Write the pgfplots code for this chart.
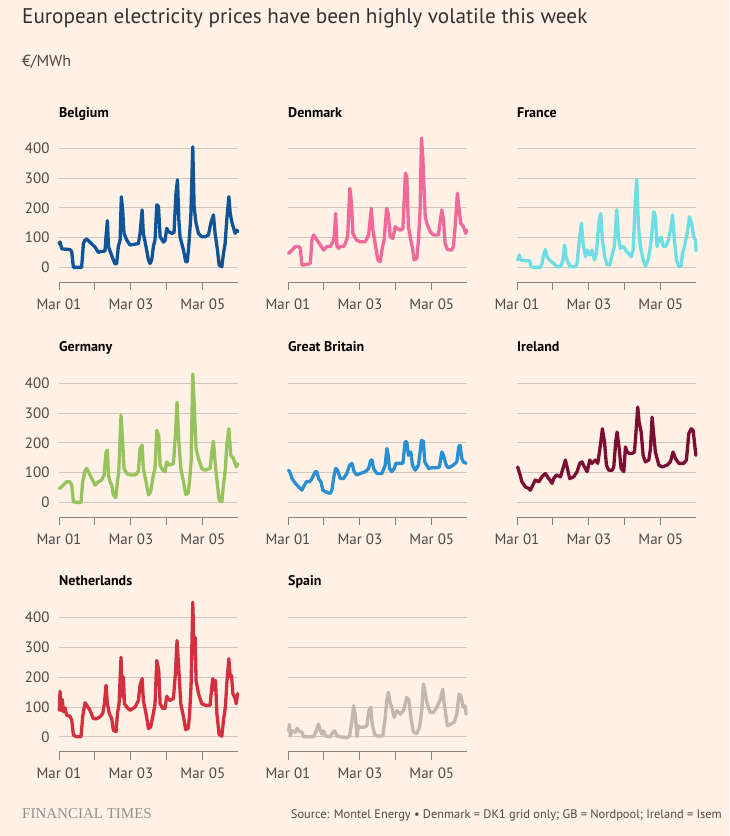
\documentclass[border=0pt]{standalone}
\usepackage{fontspec}
\setmainfont{PT Sans}
\newfontfamily\ftserif{Liberation Serif}
\usepackage{pgfplots}
\pgfplotsset{compat=1.18}
\definecolor{bg}{HTML}{FFF1E5}
\definecolor{gridc}{HTML}{CEC5BC}
\definecolor{axisc}{HTML}{8A827C}
\definecolor{labelc}{HTML}{4D4845}
\definecolor{titlec}{HTML}{33302E}
\definecolor{cBE}{HTML}{0F5499}
\definecolor{cDK}{HTML}{F0699A}
\definecolor{cFR}{HTML}{6DDDE6}
\definecolor{cDE}{HTML}{96C35B}
\definecolor{cGB}{HTML}{2A8FD2}
\definecolor{cIE}{HTML}{7A0E33}
\definecolor{cNL}{HTML}{D2303F}
\definecolor{cES}{HTML}{C2B7AE}
\pgfplotsset{panel/.style={
  scale only axis, width=179pt, height=152pt,
  xmin=0, xmax=119.5, ymin=-50, ymax=460,
  axis x line*=bottom, axis y line*=left,
  y axis line style={draw=none},
  x axis line style={draw=axisc, line width=1pt},
  xtick={0,24,48,72,96},
  xticklabels={Mar 01,,Mar 03,,Mar 05},
  xtick align=outside, major tick length=8pt,
  xtick style={draw=axisc, line width=1pt},
  ytick={0,100,200,300,400},
  ytick style={draw=none},
  ymajorgrids, major grid style={draw=gridc, line width=0.8pt},
  tick label style={font=\fontsize{15}{17}\selectfont, text=labelc},
  xticklabel style={yshift=-5pt},
  yticklabel style={xshift=-6pt},
  /pgf/number format/assume math mode=true,
  clip=false,
  every axis plot/.append style={line width=3.3pt, line join=round, line cap=round, mark=none},
  anchor=south west,
}}
\begin{document}
\begin{tikzpicture}[x=1pt,y=1pt]
\fill[bg] (0,0) rectangle (729,836);
\useasboundingbox (0,0) rectangle (729,836);
\node[anchor=base west, text=titlec, inner sep=0pt, font=\fontsize{21.2}{25}\selectfont] at (22,812) {European electricity prices have been highly volatile this week};
\node[anchor=base west, text=labelc, inner sep=0pt, font=\fontsize{16}{19}\selectfont] at (22,769) {€/MWh};
% panel titles
\foreach \t/\x/\y in {Belgium/59/718, Denmark/288/718, France/517/718, Germany/59/484, Great Britain/288/484, Ireland/517/484, Netherlands/59/250, Spain/288/250}{
  \node[anchor=base west, inner sep=0pt, text=black, font=\fontsize{14}{16}\selectfont\bfseries] at (\x,\y) {\t};
}
% Belgium
\begin{axis}[panel, at={(59pt,553.7pt)}]
\addplot[cBE] coordinates {(0,80)(0.7,85)(1.8,62)(7.3,60)(8.5,53)(9.6,0)(15.1,0)(16.3,80)(17.4,92)(18.5,95)(24.1,68)(26.3,50)(27.4,53)(30.7,55)(31.4,103)(32.3,157)(33.0,70)(34.1,55)(35.9,30)(37.4,12)(38.5,12)(39.6,70)(40.8,92)(41.6,237)(42.5,193)(43.4,114)(45.2,92)(47.4,75)(50.8,78)(53.0,80)(54.1,114)(55.5,193)(56.3,114)(58.1,70)(59.7,25)(60.8,13)(61.9,25)(63.0,70)(64.1,92)(65.3,210)(66.4,204)(67.5,103)(69.7,85)(70.8,90)(71.9,131)(73.1,120)(75.3,114)(76.8,117)(78.0,243)(79.1,294)(80.0,159)(80.8,103)(83.1,58)(84.6,19)(85.7,19)(86.6,70)(88.0,170)(89.3,405)(90.2,204)(91.5,148)(93.1,114)(95.3,103)(97.6,103)(99.8,109)(101.3,148)(103.1,176)(104.2,114)(105.8,58)(106.9,8)(108.7,2)(109.8,47)(110.9,80)(112.0,159)(113.4,237)(114.3,181)(115.6,148)(117.6,114)(118.7,125)(119.4,120)};
\end{axis}
% Denmark
\begin{axis}[panel, at={(288pt,553.7pt)}, yticklabels={}]
\addplot[cDK] coordinates {(0.4,47)(2.7,58)(4.9,70)(7.1,70)(8.2,64)(9.3,8)(10.4,8)(14.9,13)(16.0,92)(17.1,109)(19.3,92)(21.6,75)(23.8,58)(26.0,70)(28.2,70)(30.0,86)(30.9,103)(31.8,181)(32.7,70)(33.8,64)(34.9,70)(37.1,70)(38.2,80)(39.8,103)(41.3,265)(42.4,215)(43.3,114)(45.6,92)(48.2,86)(51.6,86)(53.8,109)(55.6,198)(56.7,125)(58.2,80)(60.0,25)(61.6,19)(63.1,70)(64.2,92)(65.8,198)(66.9,181)(68.2,103)(70.0,97)(71.6,137)(72.7,131)(74.9,125)(76.7,131)(78.4,316)(79.3,305)(80.4,137)(82.0,92)(83.1,64)(84.2,25)(86.0,30)(87.1,92)(88.2,193)(89.1,434)(90.0,372)(91.6,170)(92.7,148)(94.9,120)(97.1,109)(100.4,109)(102.7,193)(103.8,159)(104.9,80)(106.4,60)(109.3,58)(110.4,70)(111.6,137)(113.1,249)(114.0,204)(115.3,148)(117.1,137)(118.7,114)(119.3,125)};
\end{axis}
% France
\begin{axis}[panel, at={(517pt,553.7pt)}, yticklabels={}]
\addplot[cFR] coordinates {(0.4,25)(1.6,42)(2.2,25)(6.7,22)(8.5,22)(9.4,2)(11.1,0)(15.6,0)(16.7,13)(17.8,42)(18.9,60)(20.0,36)(22.3,22)(24.5,13)(26.7,2)(29.0,2)(30.7,25)(31.8,75)(32.7,36)(33.9,19)(35.6,2)(39.0,2)(40.1,13)(41.6,92)(43.0,148)(44.1,80)(45.7,36)(46.8,58)(48.6,42)(50.1,58)(51.7,25)(53.0,47)(54.6,148)(55.9,181)(57.0,92)(58.6,36)(60.1,8)(61.9,8)(63.5,42)(65.0,70)(66.6,193)(67.7,103)(69.0,64)(71.3,70)(73.1,53)(74.6,47)(76.2,36)(77.5,58)(78.8,204)(79.9,294)(81.1,137)(82.4,70)(84.2,25)(85.7,4)(87.5,25)(89.1,70)(90.2,125)(91.3,187)(92.4,170)(93.5,70)(94.7,92)(96.2,101)(97.6,70)(99.3,70)(101.1,92)(102.9,137)(103.8,176)(105.1,92)(106.5,25)(108.0,2)(109.6,6)(110.5,47)(111.8,70)(113.6,114)(115.1,170)(116.5,148)(118.0,103)(119.1,92)(119.5,56)};
\end{axis}
% Germany
\begin{axis}[panel, at={(59pt,318.7pt)}]
\addplot[cDE] coordinates {(0.2,47)(1.8,52)(4.0,64)(5.1,69)(7.3,69)(8.5,58)(9.6,2)(11.8,0)(14.7,0)(15.8,69)(17.4,108)(18.5,114)(20.7,92)(23.0,69)(24.1,58)(26.3,69)(28.5,75)(30.1,92)(31.4,169)(32.3,175)(33.0,92)(34.1,69)(35.2,58)(36.3,25)(37.9,16)(39.0,69)(39.9,103)(41.4,292)(42.5,203)(43.4,114)(45.2,97)(47.4,92)(50.8,92)(53.0,103)(54.1,181)(55.5,192)(56.3,114)(58.1,69)(59.7,25)(61.2,36)(63.0,92)(64.1,114)(65.3,242)(66.6,225)(67.5,125)(69.3,108)(70.8,103)(71.9,136)(73.7,125)(76.4,130)(77.7,225)(78.8,336)(80.0,203)(81.3,114)(83.1,69)(84.6,27)(86.2,30)(87.1,69)(88.2,136)(89.3,431)(90.2,336)(91.5,181)(93.1,147)(95.3,114)(97.6,108)(100.9,114)(102.0,169)(103.1,205)(104.2,136)(105.3,80)(106.9,8)(108.7,2)(109.8,58)(111.1,114)(112.0,192)(113.4,247)(114.7,158)(116.5,147)(118.3,119)(119.4,130)};
\end{axis}
% Great Britain
\begin{axis}[panel, at={(288pt,318.7pt)}, yticklabels={}]
\addplot[cGB] coordinates {(0.4,108)(1.6,97)(2.7,80)(4.9,64)(7.1,52)(9.3,41)(10.4,52)(12.2,69)(14.4,69)(16.0,80)(18.2,103)(19.3,103)(20.4,80)(22.0,69)(23.3,41)(24.9,36)(28.2,30)(29.3,41)(30.4,80)(31.8,114)(33.1,108)(34.9,80)(37.1,80)(39.3,97)(41.1,125)(42.7,131)(44.2,103)(46.0,92)(48.2,97)(51.6,103)(53.8,114)(55.3,142)(56.2,142)(57.1,114)(59.3,97)(62.7,97)(64.9,125)(66.0,181)(66.9,158)(67.8,114)(69.3,103)(70.9,114)(72.0,131)(73.8,131)(76.7,131)(78.2,203)(79.3,203)(80.4,158)(82.0,169)(83.1,125)(84.9,108)(87.1,125)(88.2,169)(89.1,208)(90.4,205)(91.3,136)(93.8,114)(96.0,116)(99.3,116)(101.1,119)(102.7,169)(103.8,158)(105.6,125)(107.1,116)(110.4,125)(112.7,136)(114.0,186)(114.9,192)(116.0,147)(117.1,136)(118.9,131)};
\end{axis}
% Ireland
\begin{axis}[panel, at={(517pt,318.7pt)}, yticklabels={}]
\addplot[cIE] coordinates {(0.4,119)(1.8,97)(3.3,69)(5.6,52)(7.8,47)(8.9,41)(10.0,52)(12.2,75)(14.5,69)(16.7,86)(18.9,97)(21.2,80)(23.4,64)(24.5,80)(26.3,92)(29.0,86)(30.7,114)(32.3,142)(33.4,119)(35.2,80)(37.9,86)(40.1,103)(41.9,131)(43.4,136)(45.0,119)(46.8,103)(48.6,142)(50.1,131)(52.3,142)(53.9,131)(55.7,192)(57.0,247)(58.4,203)(59.7,125)(61.2,108)(63.5,108)(64.6,119)(65.9,203)(66.8,236)(68.2,181)(69.5,114)(71.3,103)(72.4,186)(73.5,169)(75.1,164)(76.8,164)(78.4,169)(79.3,225)(80.6,320)(81.5,270)(82.9,236)(84.2,158)(85.7,136)(88.0,142)(89.1,181)(90.2,286)(91.3,225)(92.4,169)(94.7,125)(96.9,119)(100.2,125)(102.4,136)(104.2,169)(105.8,147)(108.0,131)(111.4,131)(113.1,142)(114.7,231)(116.3,247)(117.6,242)(119.4,158)};
\end{axis}
% Netherlands
\begin{axis}[panel, at={(59pt,84.3pt)}]
\addplot[cNL] coordinates {(0.2,89)(0.7,153)(1.3,89)(2.2,125)(2.9,84)(4.0,97)(5.1,72)(7.3,69)(8.5,56)(9.6,6)(11.8,0)(14.7,0)(15.8,67)(17.4,114)(18.5,106)(20.7,89)(22.9,61)(25.2,61)(27.4,67)(29.2,78)(30.3,111)(31.4,173)(32.3,111)(33.6,78)(35.2,61)(36.3,22)(38.1,17)(39.0,78)(40.1,111)(41.4,267)(42.3,134)(43.0,201)(43.7,111)(45.2,100)(47.4,89)(50.8,100)(53.0,122)(54.1,173)(55.5,195)(56.3,122)(58.1,78)(59.7,28)(61.2,33)(63.0,78)(64.1,111)(65.3,256)(66.6,223)(67.5,111)(69.3,95)(70.8,95)(71.9,136)(73.7,122)(76.4,128)(77.7,212)(78.8,323)(80.0,223)(81.3,111)(83.1,67)(84.6,24)(86.2,28)(87.1,67)(88.2,178)(89.3,451)(90.2,278)(90.9,334)(91.5,189)(93.1,145)(95.3,111)(97.6,106)(100.9,106)(102.0,167)(102.7,195)(103.8,156)(104.5,189)(105.4,78)(106.9,8)(108.7,2)(109.8,56)(111.1,100)(112.0,178)(113.4,262)(114.3,201)(115.2,206)(116.1,145)(117.6,128)(118.3,111)(119.2,145)};
\end{axis}
% Spain
\begin{axis}[panel, at={(288pt,84.3pt)}, yticklabels={}]
\addplot[cES] coordinates {(0.4,20)(0.9,41)(1.6,3)(2.7,20)(4.9,15)(6.0,29)(7.1,20)(9.3,15)(10.4,0)(13.8,0)(17.1,0)(18.9,20)(20.4,43)(21.6,20)(22.7,9)(23.8,20)(24.9,3)(28.2,0)(30.0,15)(31.1,20)(32.7,3)(34.9,0)(39.3,-3)(41.1,3)(42.7,54)(43.8,104)(44.9,76)(46.0,0)(47.1,37)(48.2,32)(50.4,32)(52.7,37)(54.0,88)(55.3,99)(56.2,43)(57.8,9)(59.3,3)(63.3,3)(64.9,65)(66.0,124)(67.1,149)(68.2,115)(69.3,99)(70.9,65)(72.7,88)(74.9,76)(77.1,88)(79.3,132)(80.7,124)(82.0,65)(83.8,15)(86.0,11)(87.8,32)(89.3,88)(90.4,177)(91.6,149)(92.7,115)(94.9,82)(97.1,82)(99.3,99)(101.6,124)(103.3,160)(104.2,115)(105.6,65)(106.4,37)(108.2,41)(110.9,49)(112.7,76)(114.2,143)(115.3,138)(117.1,99)(118.2,104)(118.9,76)};
\end{axis}
% footer
\node[anchor=base west, inner sep=0pt, text=gray!85!bg, font=\ftserif\fontsize{15}{18}\selectfont] at (22,17) {FINANCIAL TIMES};
\node[anchor=base east, inner sep=0pt, text=labelc, font=\fontsize{12.4}{15}\selectfont] at (722,17) {Source: Montel Energy • Denmark = DK1 grid only; GB = Nordpool; Ireland = Isem};
\end{tikzpicture}
\end{document}
